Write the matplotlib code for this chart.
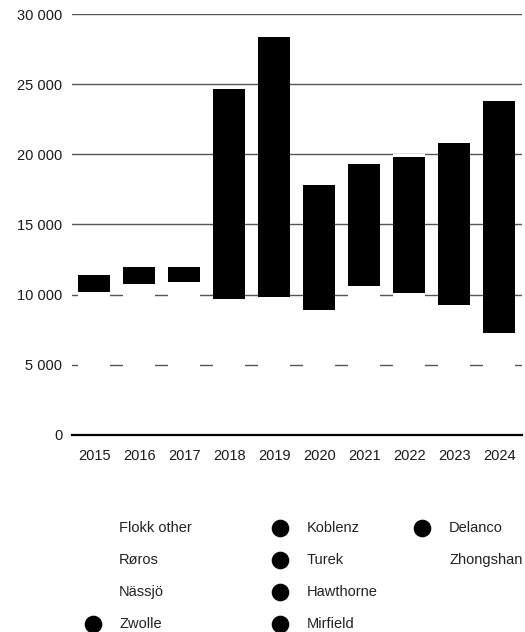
import matplotlib
matplotlib.use("Agg")
import matplotlib.pyplot as plt
from matplotlib.lines import Line2D
from matplotlib.ticker import FuncFormatter

plt.rcParams["font.family"] = ["Liberation Sans", "DejaVu Sans"]

# Data
years = ["2015", "2016", "2017", "2018", "2019", "2020", "2021", "2022", "2023", "2024"]

flokk_other = [5200, 5500, 5600, 4700, 4800, 4200, 5000, 4800, 4300, 3400]
roros = [2900, 3000, 3050, 2900, 2950, 2700, 3300, 3100, 2900, 2300]
nassjo = [2080, 2250, 2220, 2080, 2050, 1970, 2310, 2190, 2070, 1530]
zwolle = [1230, 1230, 1110, 880, 2070, 1900, 1500, 1600, 1500, 1300]
koblenz = [0, 0, 0, 6200, 6800, 3700, 3600, 3900, 4100, 3800]
turek = [0, 0, 0, 3100, 3300, 1800, 1900, 2100, 2200, 2000]
hawthorne = [0, 0, 0, 4780, 4900, 1560, 1680, 2140, 2300, 2400]
mirfield = [0, 0, 0, 0, 1500, 0, 0, 0, 0, 1790]
delanco = [0, 0, 0, 0, 0, 0, 0, 0, 1420, 5300]
zhongshan = [0, 0, 0, 0, 0, 0, 0, 200, 0, 0]

series = [
    ("Flokk other", flokk_other, "white"),
    ("Røros", roros, "white"),
    ("Nässjö", nassjo, "white"),
    ("Zwolle", zwolle, "black"),
    ("Koblenz", koblenz, "black"),
    ("Turek", turek, "black"),
    ("Hawthorne", hawthorne, "black"),
    ("Mirfield", mirfield, "black"),
    ("Delanco", delanco, "black"),
    ("Zhongshan", zhongshan, "white"),
]

fig = plt.figure(figsize=(5.25, 6.32), dpi=100)
ax = fig.add_axes([0.1366, 0.3122, 0.8571, 0.6652])

x = list(range(len(years)))
bottom = [0] * len(years)
for name, vals, color in series:
    ax.bar(x, vals, width=0.72, bottom=bottom, color=color, linewidth=0, label=name)
    bottom = [b + v for b, v in zip(bottom, vals)]

ax.set_xlim(-0.5, len(years) - 0.5)
ax.set_ylim(0, 30000)
ax.set_yticks(range(0, 30001, 5000))
ax.yaxis.set_major_formatter(FuncFormatter(lambda v, p: f"{int(v):,}".replace(",", " ")))
ax.set_xticks(x)
ax.set_xticklabels(years)

ax.set_axisbelow(True)
ax.grid(axis="y", color="#555555", linewidth=1)
for side in ["top", "right", "left"]:
    ax.spines[side].set_visible(False)
ax.spines["bottom"].set_color("black")
ax.spines["bottom"].set_linewidth(1.6)
ax.tick_params(axis="both", length=0, labelsize=10.5, colors="#1a1a1a")
ax.tick_params(axis="x", pad=10)
ax.tick_params(axis="y", pad=6.8)

# legend laid out as a grid below the chart
W, H = 525, 632
col_marker_x = [93, 280, 422]
col_text_x = [119, 307, 449]
row_y = [528, 560, 592, 624]
layout = [
    ["Flokk other", "Røros", "Nässjö", "Zwolle"],
    ["Koblenz", "Turek", "Hawthorne", "Mirfield"],
    ["Delanco", "Zhongshan"],
]
colors = {name: color for name, _, color in series}
for c, names in enumerate(layout):
    for r, name in enumerate(names):
        fy = 1 - row_y[r] / H
        fig.add_artist(Line2D([col_marker_x[c] / W], [fy], transform=fig.transFigure,
                              marker="o", markersize=12.7, color=colors[name],
                              markeredgewidth=0, linestyle="none"))
        fig.text(col_text_x[c] / W, fy, name, fontsize=10.5, color="#222222",
                 ha="left", va="center")

fig.savefig("out.png", dpi=100)
